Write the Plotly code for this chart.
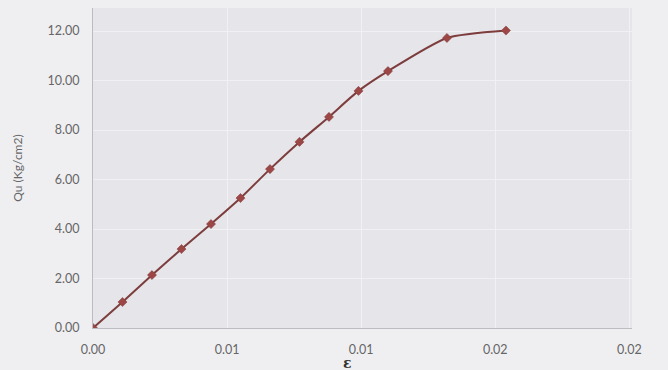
import plotly.graph_objects as go

# Axial strain and unconfined compressive stress
strain = [0.0, 0.0011, 0.0022, 0.0033, 0.0044, 0.0055, 0.0066, 0.0077,
          0.0088, 0.0099, 0.0110, 0.0132, 0.0154]
qu = [0.00, 1.05, 2.14, 3.19, 4.20, 5.25, 6.42, 7.52, 8.53, 9.58, 10.38, 11.72, 12.02]

x_tickvals = [0.0, 0.005, 0.010, 0.015, 0.020]
x_ticktext = ["0.00", "0.01", "0.01", "0.02", "0.02"]
y_tickvals = [0, 2, 4, 6, 8, 10, 12]
y_ticktext = ["0.00", "2.00", "4.00", "6.00", "8.00", "10.00", "12.00"]

line_col = "#7E3D3D"
marker_col = "#9C4646"
label_col = "#666666"
grid_col = "#F1F1F4"

fig = go.Figure()
fig.add_trace(go.Scatter(
    x=strain, y=qu,
    mode="lines+markers",
    line=dict(color=line_col, width=2, shape="spline", smoothing=0.6),
    marker=dict(symbol="diamond", size=7, color=marker_col,
                line=dict(color=line_col, width=0.5)),
    showlegend=False,
))

fig.update_layout(
    width=668, height=370,
    margin=dict(l=93, r=36, t=8, b=42),
    paper_bgcolor="#EFEFF2",
    plot_bgcolor="#E5E5EA",
    font=dict(family="Lato, 'Open Sans', sans-serif", size=12.5, color=label_col),
)

fig.update_xaxes(
    range=[0, 0.0201],
    tickvals=x_tickvals, ticktext=x_ticktext,
    showgrid=True, gridcolor=grid_col, gridwidth=1,
    zeroline=False,
    showline=True, linecolor="#BBBBC2", linewidth=1,
    ticks="", ticklabelstandoff=10,
)
fig.update_yaxes(
    range=[0, 12.93],
    tickvals=y_tickvals, ticktext=y_ticktext,
    showgrid=True, gridcolor=grid_col, gridwidth=1,
    zeroline=False,
    showline=True, linecolor="#BBBBC2", linewidth=1,
    ticks="", ticklabelstandoff=10,
    title=dict(text="Qu (Kg/cm2)", font=dict(size=12, color=label_col), standoff=22),
)

# x-axis symbol, tucked just under the middle tick label
fig.add_annotation(
    x=0.0095, xref="x", y=0, yref="paper", yanchor="middle", yshift=-35,
    text="<b>ε</b>", showarrow=False,
    font=dict(family="DejaVu Serif, serif", size=14, color="#333333"),
)

fig.write_html("out.html")
